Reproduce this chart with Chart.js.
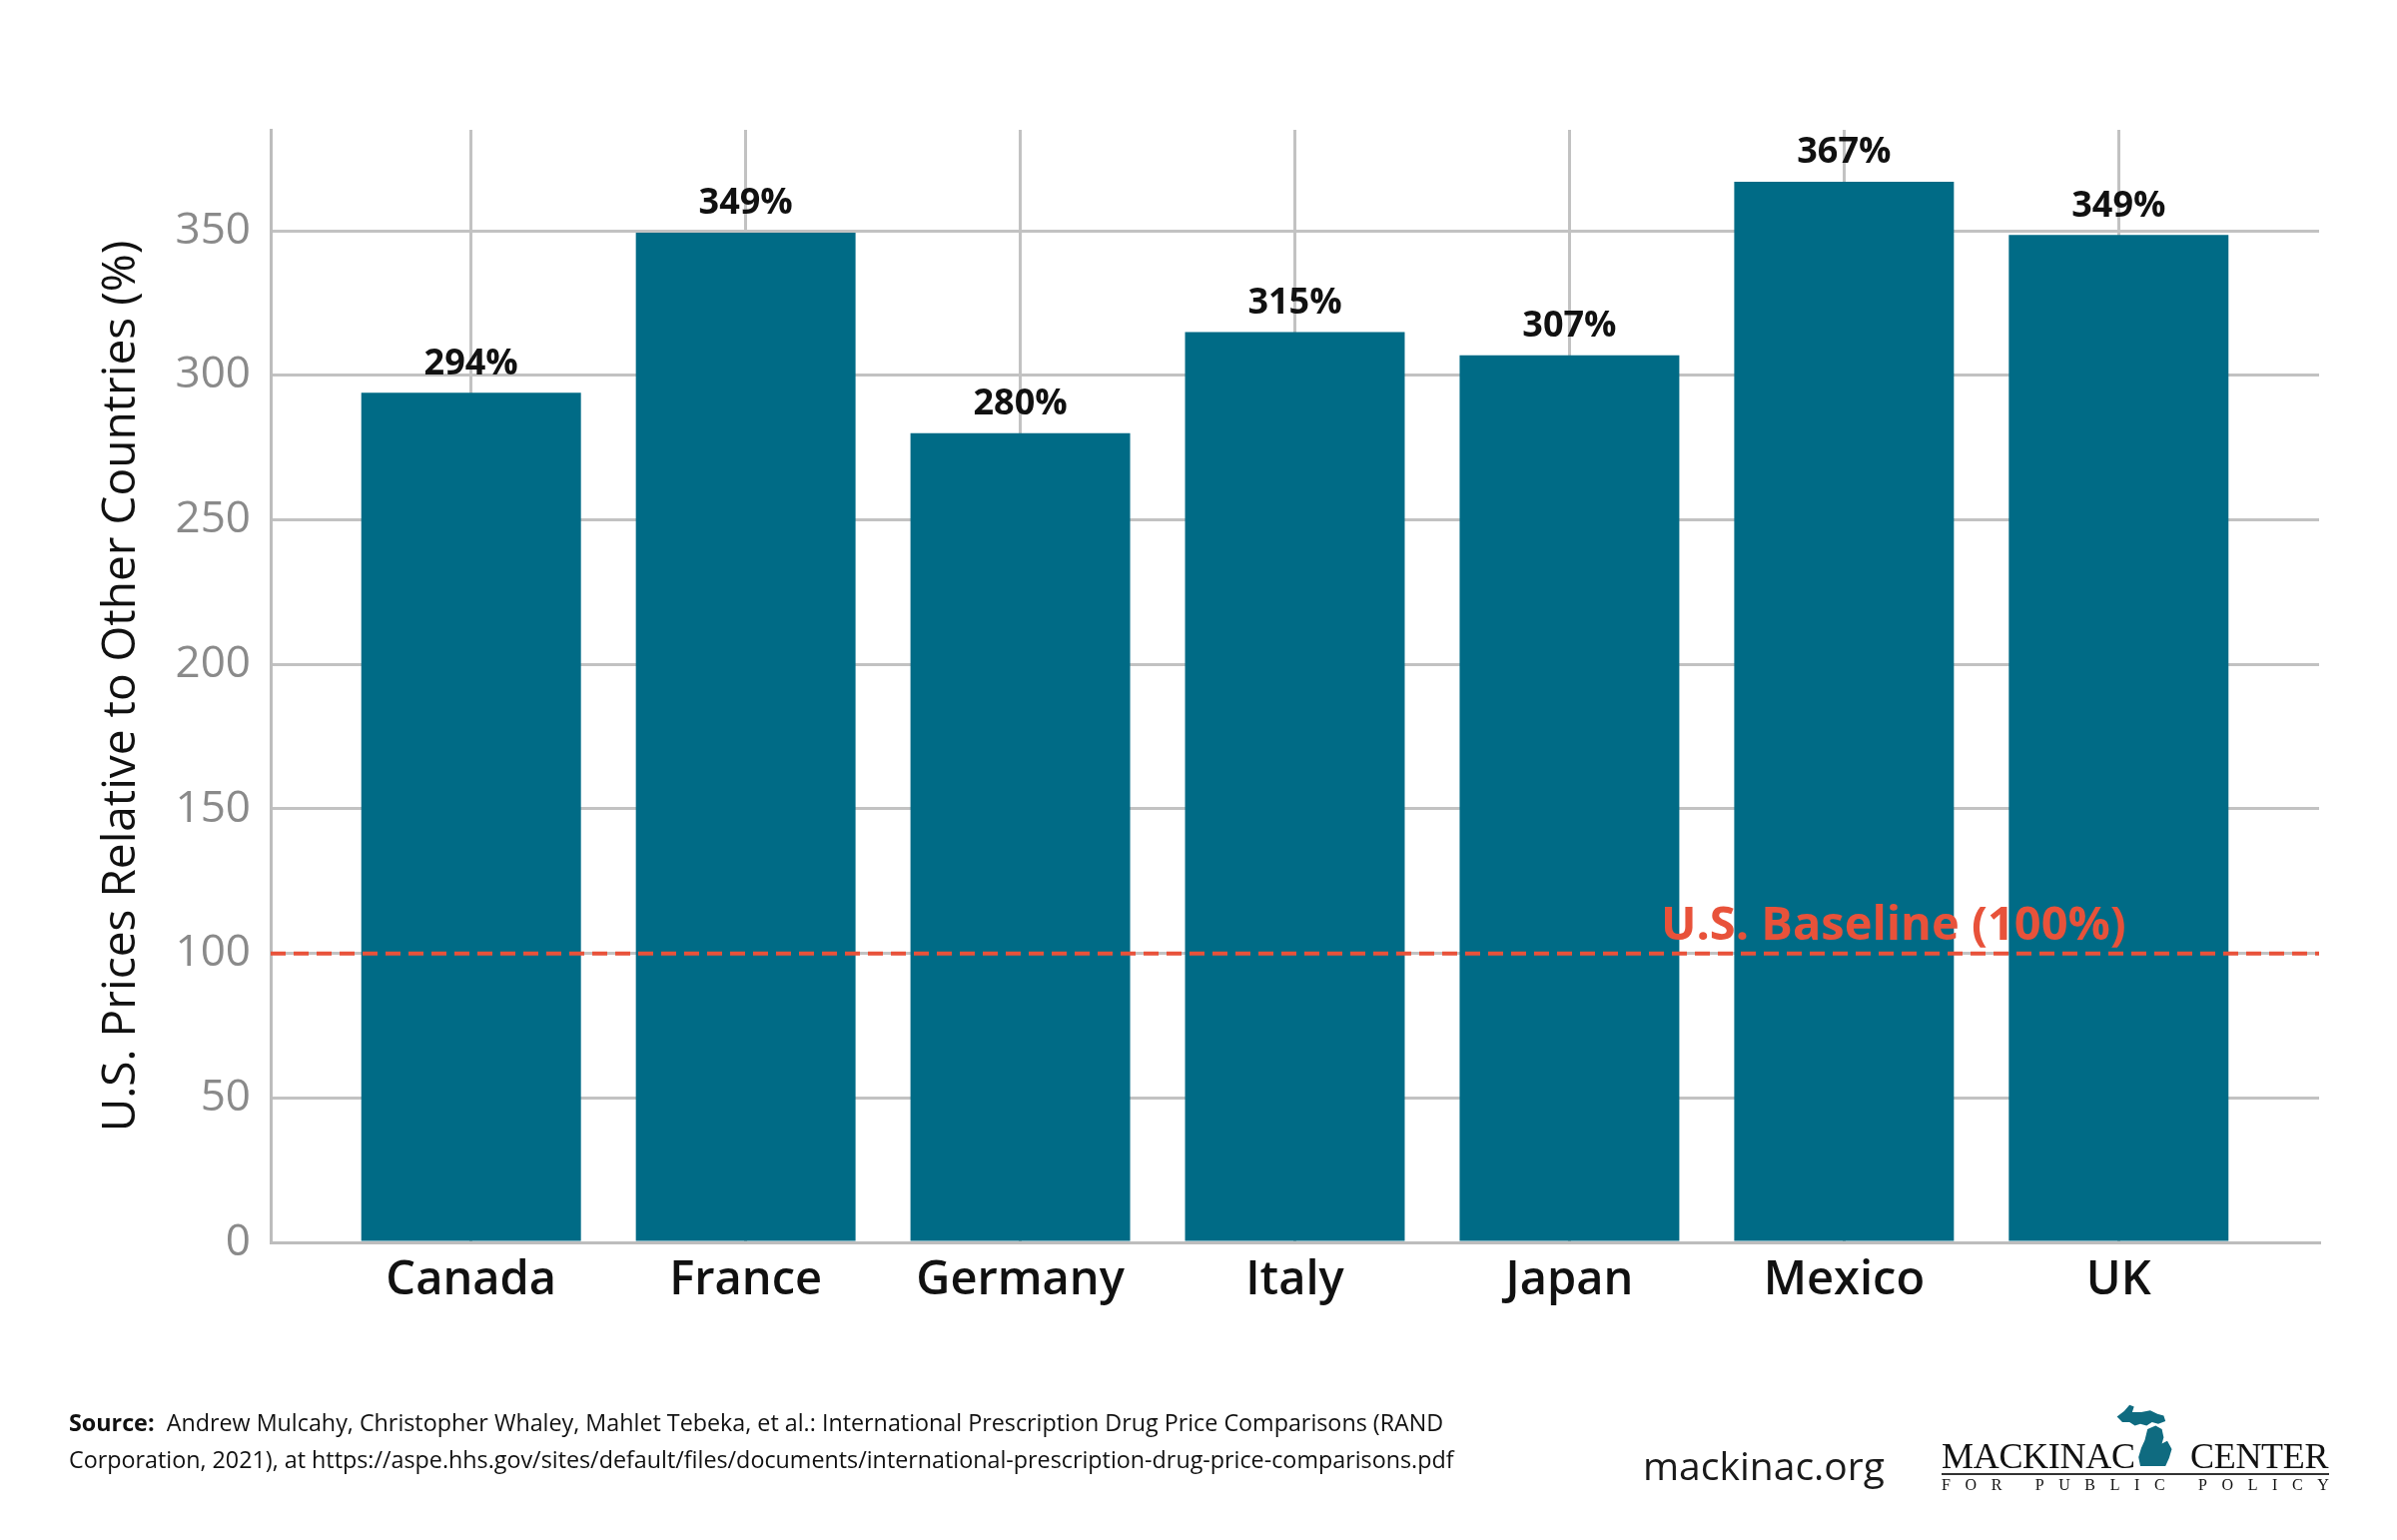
<!DOCTYPE html>
<html>
<head>
<meta charset="utf-8">
<script src="https://cdn.jsdelivr.net/npm/chart.js@4.4.0/dist/chart.umd.min.js"></script>
<style>
  html, body { margin: 0; padding: 0; background: #fff; }
  #wrap { position: relative; width: 2400px; height: 1542px; }
  #chart { position: absolute; left: 0; top: 0; }
  .source { position: absolute; left: 69px; top: 1406px; font-family: "Open Sans", sans-serif; font-size: 23.3px; line-height: 37px; color: #111; }
  .source b { font-weight: 700; }
  .site { position: absolute; left: 1645px; top: 1440px; font-family: "Open Sans", sans-serif; font-size: 39px; color: #1a1a1a; }
  .logo { position: absolute; left: 1944px; top: 1400px; width: 390px; height: 100px; }
  .logo .name { position: absolute; top: 37px; font-family: "Liberation Serif", "DejaVu Serif", serif; font-size: 36px; color: #111; letter-spacing: -0.3px; }
  .logo .rule { position: absolute; left: 0; top: 75px; width: 388px; height: 2px; background: #333; }
  .logo .sub { position: absolute; left: 0; top: 78px; width: 388px; font-family: "Liberation Serif", serif; font-size: 16px; color: #111; display: flex; justify-content: space-between; }
  .logo svg { position: absolute; left: 172px; top: 4px; }
</style>
</head>
<body>
<div id="wrap">
  <canvas id="chart" width="2400" height="1542"></canvas>
  <div class="source"><b>Source:</b>&nbsp; Andrew Mulcahy, Christopher Whaley, Mahlet Tebeka, et al.: International Prescription Drug Price Comparisons (RAND<br>Corporation, 2021), at https://aspe.hhs.gov/sites/default/files/documents/international-prescription-drug-price-comparisons.pdf</div>
  <div class="site">mackinac.org</div>
  <div class="logo">
    <span class="name" style="left:0">MACKINAC</span>
    <span class="name" style="left:249px">CENTER</span>
    <svg width="72" height="65" viewBox="0 0 80 72">
      <path fill="#0f6b80" d="M4 16 L12 10 L18 3 L23 5 L21 11 L31 11 L41 9 L49 13 L56 15 L58 21 L50 24 L43 22 L37 26 L30 24 L24 26 L18 22 L10 22 Z"/>
      <path fill="#0f6b80" d="M38 30 L47 26 L54 30 L56 39 L54 46 L60 43 L65 52 L62 62 L58 71 L43 71 L30 71 L28 61 L31 51 L35 42 Z"/>
    </svg>
    <div class="rule"></div>
    <div class="sub"><span>F</span><span>O</span><span>R</span><span>&nbsp;</span><span>P</span><span>U</span><span>B</span><span>L</span><span>I</span><span>C</span><span>&nbsp;</span><span>P</span><span>O</span><span>L</span><span>I</span><span>C</span><span>Y</span></div>
  </div>
</div>
<script>
const countries = ['Canada', 'France', 'Germany', 'Italy', 'Japan', 'Mexico', 'UK'];
const priceRatio = [294, 349.4, 280, 315, 307, 367, 348.6];
const yTicks = [0, 50, 100, 150, 200, 250, 300, 350];
const baselineValue = 100;
const baselineLabel = 'U.S. Baseline (100%)';

const teal = '#006b86';
const red = '#e8523a';
const gridGray = '#c2c2c2';

const extras = {
  id: 'extras',
  afterDatasetsDraw(chart) {
    const { ctx, chartArea, scales: { x, y } } = chart;
    ctx.save();
    // dashed baseline at 100%
    const yb = y.getPixelForValue(baselineValue);
    ctx.strokeStyle = red;
    ctx.lineWidth = 4;
    ctx.setLineDash([15, 8]);
    ctx.beginPath();
    ctx.moveTo(chartArea.left, yb);
    ctx.lineTo(chartArea.right, yb);
    ctx.stroke();
    ctx.setLineDash([]);

    // value labels above bars
    ctx.fillStyle = '#111';
    ctx.font = 'bold 36px "Open Sans"';
    ctx.textAlign = 'center';
    ctx.textBaseline = 'middle';
    chart.getDatasetMeta(0).data.forEach((bar, i) => {
      ctx.fillText(Math.round(priceRatio[i]) + '%', bar.x, bar.y - 29);
    });

    // baseline label
    ctx.fillStyle = red;
    ctx.font = 'bold 47px "Open Sans"';
    ctx.fillText(baselineLabel, x.getPixelForValue(5.18), y.getPixelForValue(109.3));
    ctx.restore();
  }
};

new Chart(document.getElementById('chart'), {
  type: 'bar',
  data: {
    datasets: [{
      data: priceRatio.map((v, i) => ({ x: i, y: v })),
      backgroundColor: teal,
      barPercentage: 0.8,
      categoryPercentage: 1
    }]
  },
  options: {
    responsive: false,
    animation: false,
    devicePixelRatio: 1,
    layout: { padding: { top: 130, right: 78, left: 0, bottom: 0 } },
    plugins: { legend: { display: false }, tooltip: { enabled: false } },
    scales: {
      x: {
        type: 'linear',
        offset: false,
        min: -0.73,
        max: 6.73,
        afterBuildTicks: s => { s.ticks = countries.map((c, i) => ({ value: i })); },
        afterFit: s => { s.height = 298; },
        ticks: {
          autoSkip: false,
          maxRotation: 0,
          padding: 10,
          color: '#111',
          font: { family: 'Open Sans', size: 47, weight: 600 },
          callback: v => countries[v]
        },
        grid: { color: gridGray, lineWidth: 3, drawTicks: false, offset: false },
        border: { color: '#bdbdbd', width: 3 }
      },
      y: {
        min: 0,
        max: 385,
        afterBuildTicks: s => { s.ticks = yTicks.map(v => ({ value: v })); },
        afterFit: s => { s.width = 271; },
        ticks: {
          padding: 20,
          color: '#8a8a8a',
          font: { family: 'Open Sans', size: 44 }
        },
        title: {
          display: true,
          text: 'U.S. Prices Relative to Other Countries (%)',
          color: '#111',
          font: { family: 'Open Sans', size: 46 },
          padding: { top: 94, bottom: 0 }
        },
        grid: { color: gridGray, lineWidth: 3, drawTicks: false },
        border: { color: '#bdbdbd', width: 3 }
      }
    }
  },
  plugins: [extras]
});
</script>
</body>
</html>
